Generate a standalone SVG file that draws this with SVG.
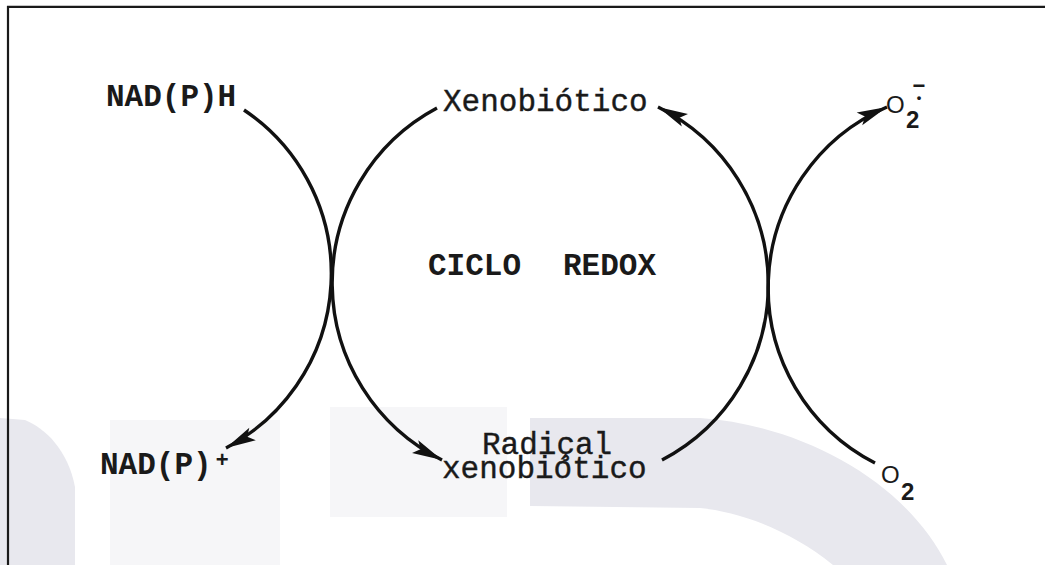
<svg xmlns="http://www.w3.org/2000/svg" width="1045" height="565" viewBox="0 0 1045 565">
  <style>
    .mono { font-family: "Liberation Mono", "Courier New", monospace; font-size: 31px; fill: #1a1a1a; }
    .bold { font-weight: bold; }
    .reg { stroke: #1a1a1a; stroke-width: 0.4; }
    .sans { font-family: "Liberation Sans", Arial, sans-serif; fill: #1a1a1a; }
    .arc { fill: none; stroke: #111; stroke-width: 3.4; marker-end: url(#ah); }
    .shade { fill: #e8e8ee; }
    .shade-faint { fill: #f6f6f8; }
  </style>
  <defs>
    <marker id="ah" markerUnits="userSpaceOnUse" markerWidth="34" markerHeight="18" viewBox="0 0 34 18" refX="32" refY="9" orient="auto">
      <path d="M32,9 L2,2 L8,9 L2,16 Z" fill="#111"/>
    </marker>
  </defs>

  <rect width="1045" height="565" fill="#ffffff"/>

  <!-- background shading -->
  <g id="background">
    <rect class="shade-faint" x="110" y="420" width="170" height="145"/>
    <rect class="shade-faint" x="330" y="407" width="177" height="110"/>
    <path class="shade" d="M0,418 L25,420 C45,428 68,450 75,487 L75,565 L0,565 Z"/>
    <path class="shade" d="M530,418 L700,418 C800,425 905,480 947,565 L833,565 C790,530 740,512 700,508 L530,506 Z"/>
  </g>

  <!-- frame -->
  <g id="frame" stroke="#1a1a1a" stroke-width="2.2">
    <line x1="7" y1="6.8" x2="1045" y2="6.8"/>
    <line x1="8" y1="6" x2="8" y2="565"/>
  </g>

  <!-- connectors -->
  <g id="connectors">
    <path class="arc" d="M244,110 A197,197 0 0 1 226,448"/>
    <path class="arc" d="M437,108 A198,198 0 0 0 442,460"/>
    <path class="arc" d="M662,460 A198,198 0 0 0 658,107"/>
    <path class="arc" d="M875,463 A197,197 0 0 1 887,107"/>
  </g>

  <!-- nodes -->
  <g id="nadph">
    <text class="mono bold" x="106" y="106">NAD(P)H</text>
  </g>
  <g id="nadp">
    <text class="mono bold" x="100" y="474">NAD(P)<tspan class="sans" font-size="22" dx="4" dy="-7">+</tspan></text>
  </g>
  <g id="xenobiotico">
    <text class="mono reg" x="443" y="111">Xenobiótico</text>
  </g>
  <g id="radical">
    <text class="mono reg"><tspan x="482" y="454">Radiçal</tspan><tspan x="442" y="478">xenobiótico</tspan></text>
  </g>
  <g id="ciclo-redox">
    <text class="mono bold" x="428" y="275">CICLO</text>
    <text class="mono bold" x="563" y="275">REDOX</text>
  </g>
  <g id="superoxido">
    <text class="sans" font-size="24" font-weight="bold"><tspan x="886" y="113" font-weight="normal">O</tspan><tspan x="906" y="128">2</tspan><tspan x="919" y="93" font-size="22" text-anchor="middle">−</tspan><tspan x="919" y="102" font-size="13" text-anchor="middle">•</tspan></text>
  </g>
  <g id="oxigeno">
    <text class="sans" font-size="24"><tspan x="881" y="483">O</tspan><tspan x="901" y="500" font-weight="bold">2</tspan></text>
  </g>
</svg>
